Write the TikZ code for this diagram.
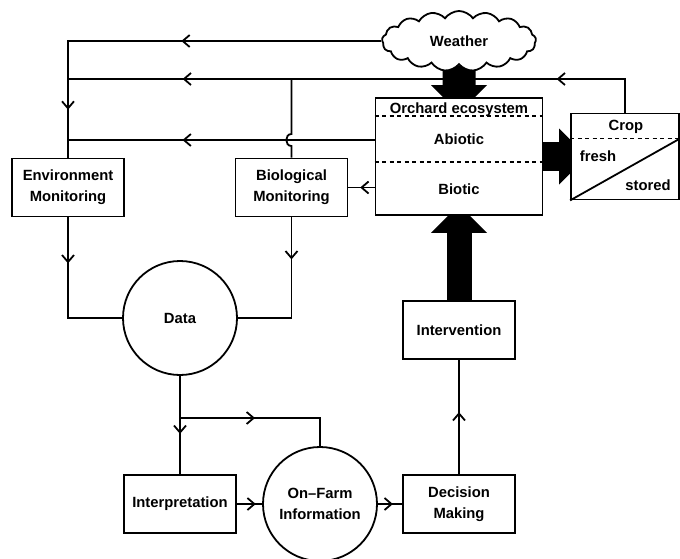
\documentclass[tikz,border=0pt]{standalone}
\usepackage{fontspec}
\setmainfont{Liberation Sans}
\usetikzlibrary{shapes.symbols,arrows.meta,decorations.markings,calc,backgrounds}
\begin{document}
\begin{tikzpicture}[x=1pt,y=-1pt,
  every node/.style={font=\fontsize{14.8}{21}\selectfont\bfseries, align=center},
  box/.style={draw, line width=1.8pt, fill=white, minimum width=112pt, minimum height=58pt, inner sep=0pt},
  disc/.style={draw, circle, line width=1.8pt, fill=white, minimum size=114pt, inner sep=0pt},
  wire/.style={line width=1.8pt},
  barb/.style={postaction={decorate, decoration={markings,
      mark=at position #1 with {\arrow{Straight Barb[length=7pt,width=12pt]}}}}},
  fat/.style={line width=#1, -{Triangle[width=56pt,length=28pt,line width=0pt]}},
  dashline/.style={line width=1.5pt, dash pattern=on 4pt off 3.5pt},
]
\useasboundingbox (0,0) rectangle (680,558);

% --- nodes ---
\node[cloud, draw, fill=white, line width=1.8pt, cloud puffs=17, cloud puff arc=110,
      cloud ignores aspect, minimum width=154pt, minimum height=60pt, inner sep=0pt]
      (weather) at (459,41) {Weather};

\node[draw, line width=1.8pt, fill=white, minimum width=167pt, minimum height=117pt, inner sep=0pt]
      (orchard) at (459,156.5) {};
\node[anchor=base] at (459,113) {Orchard ecosystem};
\node[anchor=base] at (459,144) {Abiotic};
\node[anchor=base] at (459,194) {Biotic};
\draw[dashline] ($(orchard.north west)+(0,19)$) -- ($(orchard.north east)+(0,19)$);
\draw[dashline] ($(orchard.north west)+(0,65)$) -- ($(orchard.north east)+(0,65)$);

\node[draw, line width=1.8pt, fill=white, minimum width=108pt, minimum height=86pt, inner sep=0pt]
      (crop) at (625,156.5) {};
\coordinate (cropL) at ($(crop.north west)+(0,26)$);
\coordinate (cropR) at ($(crop.north east)+(0,26)$);
\draw[dashline] (cropL) -- (cropR);
\draw[line width=1.8pt] (crop.south west) -- (cropR);
\node[anchor=base] at (626,130) {Crop};
\node[anchor=base] at (598,161) {fresh};
\node[anchor=base] at (648,190) {stored};

\node[box] (env) at (68,187.5) {Environment\\Monitoring};
\node[box] (bio) at (291.5,187.5) {Biological\\Monitoring};
\node[disc] (data) at (180,318) {Data};
\node[box] (interp) at (180,504) {Interpretation};
\node[disc] (onfarm) at (320,504) {On–Farm\\Information};
\node[box] (decision) at (459,504) {Decision\\Making};
\node[box] (intervention) at (459,330) {Intervention};

% --- junctions ---
\coordinate (topJ) at (68,79);
\coordinate (bioJ) at (291.5,79);
\coordinate (abioL) at (375.5,140);
\coordinate (midJ) at (68,140);
\coordinate (split) at (180,418);

% --- connectors and flows, kept beneath the boxes ---
\begin{scope}[on background layer]
  \fill[white] (0,0) rectangle (680,558);
  \draw[wire, barb=200pt, barb=382pt] (weather.west) -| (env.north);
  \draw[wire, barb=102pt, barb=476pt] (crop.north) |- (topJ);
  \draw[wire] (bioJ) -- ++(0,55) .. controls +(-7,0) and +(-7,0) .. ++(0,12) -- (bio.north);
  \draw[wire, barb=193pt] (abioL) -- (midJ);
  \draw[wire, barb=0.55] (orchard.west |- bio.east) -- (bio.east);
  \draw[wire, barb=46pt] (env.south) |- (data.west);
  \draw[wire, barb=42pt] (bio.south) |- (data.east);
  \draw[wire, barb=58pt] (data.south) -- (interp.north);
  \draw[wire, barb=75pt] (split) -| (onfarm.north);
  \draw[wire, barb=0.75] (interp.east) -- (onfarm.west);
  \draw[wire, barb=0.62] (onfarm.east) -- (decision.west);
  \draw[wire, barb=62pt] (decision.north) -- (intervention.south);

  \draw[fat=33pt] (weather.south) -- ([yshift=-16pt]orchard.north);
  \draw[fat=29pt] (orchard.east) -- ([xshift=17pt]crop.west);
  \draw[fat=25pt] (intervention.north) -- ([yshift=11pt]orchard.south);
\end{scope}
\end{tikzpicture}
\end{document}
